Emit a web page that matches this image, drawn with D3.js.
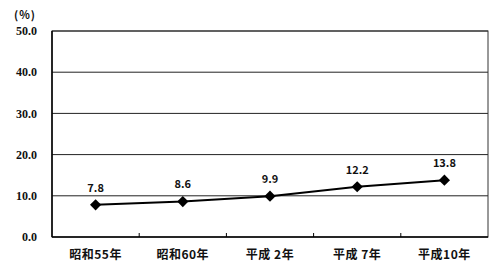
<!DOCTYPE html>
<html>
<head>
<meta charset="utf-8">
<style>
  body { margin: 0; background: #fff; }
  text { font-family: "Noto Sans CJK JP", "DejaVu Sans", sans-serif; fill: #111; }
</style>
</head>
<body>
<script src="https://d3js.org/d3.v7.min.js"></script>
<script>
// data
const categories = ['昭和55年', '昭和60年', '平成 2年', '平成 7年', '平成10年'];
const values = [7.8, 8.6, 9.9, 12.2, 13.8];
const yTicks = [0, 10, 20, 30, 40, 50];

const width = 502, height = 265;
const margin = { top: 31, right: 14, bottom: 28, left: 52 };

const svg = d3.select('body').append('svg')
    .attr('width', width)
    .attr('height', height);

const x = d3.scaleBand()
    .domain(categories)
    .range([margin.left, width - margin.right]);

const y = d3.scaleLinear()
    .domain([0, 50])
    .range([height - margin.bottom, margin.top]);

// gridlines
svg.selectAll('.grid')
    .data(yTicks.filter(d => d > 0))
    .enter()
    .append('line')
    .attr('x1', margin.left)
    .attr('x2', width - margin.right)
    .attr('y1', d => y(d))
    .attr('y2', d => y(d))
    .attr('stroke', '#222')
    .attr('stroke-width', 1);

// plot frame
svg.append('rect')
    .attr('x', margin.left)
    .attr('y', y(50))
    .attr('width', width - margin.right - margin.left)
    .attr('height', y(0) - y(50))
    .attr('fill', 'none')
    .attr('stroke', '#333')
    .attr('stroke-width', 1);

// axes lines
svg.append('line')
    .attr('x1', margin.left).attr('x2', margin.left)
    .attr('y1', y(50)).attr('y2', y(0))
    .attr('stroke', '#000').attr('stroke-width', 1.5);
svg.append('line')
    .attr('x1', margin.left).attr('x2', width - margin.right)
    .attr('y1', y(0)).attr('y2', y(0))
    .attr('stroke', '#000').attr('stroke-width', 1.5);

// x ticks at band boundaries (inward)
svg.selectAll('.xtick')
    .data(categories.slice(1))
    .enter()
    .append('line')
    .attr('x1', d => x(d))
    .attr('x2', d => x(d))
    .attr('y1', y(0))
    .attr('y2', y(0) - 4)
    .attr('stroke', '#000');

// y labels
svg.selectAll('.ylab')
    .data(yTicks)
    .enter()
    .append('text')
    .attr('x', 37)
    .attr('y', d => y(d))
    .attr('dy', '0.35em')
    .attr('text-anchor', 'end')
    .attr('font-size', 12)
    .attr('font-weight', 'bold')
    .style('font-family', '"Liberation Serif", serif')
    .text(d => d.toFixed(1));

svg.append('text')
    .attr('x', 25)
    .attr('y', 15)
    .attr('dy', '0.35em')
    .attr('text-anchor', 'middle')
    .attr('font-size', 11)
    .attr('font-weight', 'bold')
    .attr('letter-spacing', 1)
    .text('(%)');

// x labels
svg.selectAll('.xlab')
    .data(categories)
    .enter()
    .append('text')
    .attr('x', d => x(d) + x.bandwidth() / 2)
    .attr('y', 255)
    .attr('dy', '0.35em')
    .attr('text-anchor', 'middle')
    .attr('font-size', 12)
    .attr('font-weight', 'bold')
    .attr('letter-spacing', 0.5)
    .attr('xml:space', 'preserve')
    .text(d => d);

// line
const pts = categories.map((c, i) => [x(c) + x.bandwidth() / 2, y(values[i])]);
svg.append('path')
    .attr('d', d3.line()(pts))
    .attr('fill', 'none')
    .attr('stroke', '#000')
    .attr('stroke-width', 2);

// markers
svg.selectAll('.mark')
    .data(pts)
    .enter()
    .append('path')
    .attr('d', d3.symbol().type(d3.symbolDiamond2).size(80))
    .attr('transform', d => `translate(${d[0]},${d[1]})`)
    .attr('fill', '#000');

// value labels
svg.selectAll('.vlab')
    .data(pts)
    .enter()
    .append('text')
    .attr('x', d => d[0])
    .attr('y', d => d[1] - 17)
    .attr('dy', '0.35em')
    .attr('text-anchor', 'middle')
    .attr('font-size', 11)
    .attr('font-weight', 'bold')
    .text((d, i) => values[i].toFixed(1));
</script>
</body>
</html>
